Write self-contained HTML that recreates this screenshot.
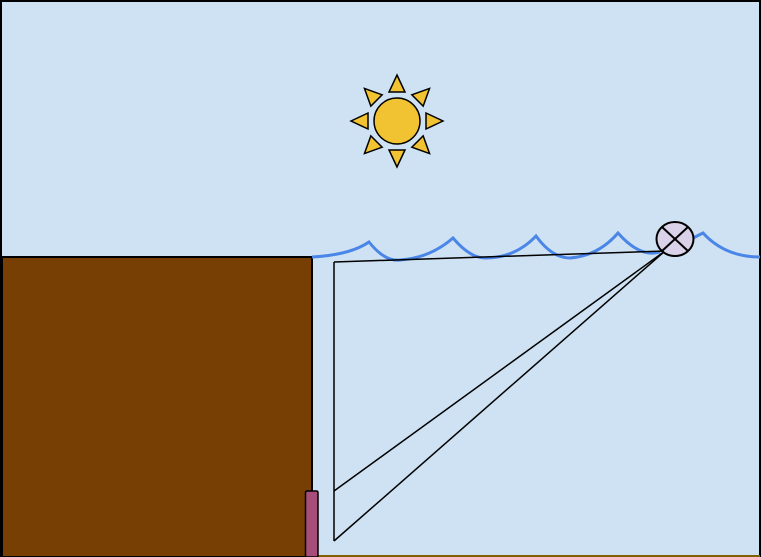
<!DOCTYPE html>
<html><head><meta charset="utf-8"><style>html,body{margin:0;padding:0;background:#fff}svg{display:block}</style></head>
<body>
<svg width="761" height="557" viewBox="0 0 761 557">
<rect x="1" y="1" width="759" height="555" fill="#cfe2f3" stroke="#000" stroke-width="2"/>
<line x1="318" y1="556" x2="760" y2="556" stroke="#7f6000" stroke-width="2"/>
<rect x="2" y="257" width="310" height="300" fill="#783f04" stroke="#000" stroke-width="2"/>
<g stroke="#000" stroke-width="1.5" fill="#f1c232">
<circle cx="397" cy="121" r="23"/>
<g id="rays"></g>
</g>
<path d="M312 257 Q350 255 369 242 Q385 262 400 260 Q430 258 453 238 Q470 258 485 258 Q515 258 536 236 Q552 258 570 258 Q598 256 618 233 Q640 258 660 252 M693 238 L703 233 Q725 257 760 257" fill="none" stroke="#4a86e8" stroke-width="3"/>
<g stroke="#000" stroke-width="1.5" fill="none">
<line x1="334" y1="262" x2="334" y2="541"/>
<line x1="334" y1="262" x2="665" y2="251"/>
<line x1="334" y1="491" x2="665" y2="251"/>
<line x1="334" y1="541" x2="665" y2="251"/>
</g>
<g>
<ellipse cx="675" cy="239" rx="18.5" ry="17" fill="#d9d2e9" stroke="#000" stroke-width="2"/>
<line x1="662" y1="227" x2="688" y2="251" stroke="#000" stroke-width="2"/>
<line x1="688" y1="227" x2="662" y2="251" stroke="#000" stroke-width="2"/>
</g>
<rect x="305.5" y="491" width="12.5" height="66" rx="1.5" fill="#a64d79" stroke="#000" stroke-width="1.5"/>
</svg>
<script>
const g=document.getElementById('rays');
for(let i=0;i<8;i++){
  const a=i*Math.PI/4,c=Math.cos(a),s=Math.sin(a),cx=397,cy=121;
  const r1=29,r2=46,w=8;
  const p=[[cx+c*r2,cy+s*r2],[cx+c*r1-s*w,cy+s*r1+c*w],[cx+c*r1+s*w,cy+s*r1-c*w]];
  const el=document.createElementNS('http://www.w3.org/2000/svg','polygon');
  el.setAttribute('points',p.map(q=>q.join(',')).join(' '));
  
  
  g.appendChild(el);
}
</script>
</body></html>
